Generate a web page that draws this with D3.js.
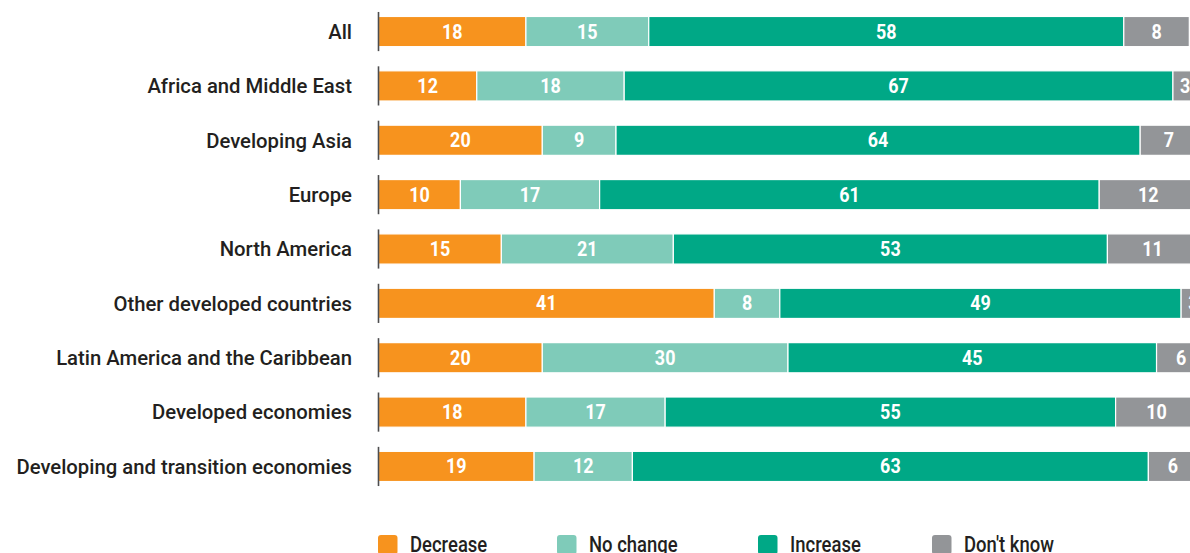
<!DOCTYPE html>
<html><head><meta charset="utf-8">
<script src="https://cdn.jsdelivr.net/npm/d3@7"></script>
<style>
html,body{margin:0;padding:0;background:#fff;overflow:hidden;}
svg{display:block;}
</style></head>
<body>
<svg id="chart" width="1190" height="553"></svg>
<script>
const categories = ["All","Africa and Middle East","Developing Asia","Europe","North America","Other developed countries","Latin America and the Caribbean","Developed economies","Developing and transition economies"];
const seriesNames = ["Decrease","No change","Increase","Don't know"];
const decrease = [18,12,20,10,15,41,20,18,19];
const noChange = [15,18,9,17,21,8,30,17,12];
const increase = [58,67,64,61,53,49,45,55,63];
const dontKnow = [8,3,7,12,11,3,6,10,6];
const colors = ["#F7931E","#7FCBB9","#00A886","#939598"];

const font = "Roboto, 'Liberation Sans', sans-serif";
const svg = d3.select("#chart");
const x0 = 378.5;
const x = d3.scaleLinear().domain([0,100]).range([x0, x0 + 819]);
const y = d3.scaleBand().domain(categories).range([4.5, 493.5]).paddingInner(0.445).paddingOuter(0.22);

const rows = categories.map((c,i)=>({cat:c, Decrease:decrease[i], "No change":noChange[i], Increase:increase[i], "Don't know":dontKnow[i]}));
const stack = d3.stack().keys(seriesNames)(rows);

const g = svg.append("g");
stack.forEach((layer, li) => {
  const lg = g.append("g");
  lg.selectAll("rect").data(layer).join("rect")
    .attr("x", d => x(d[0]))
    .attr("y", d => y(d.data.cat))
    .attr("width", d => x(d[1]) - x(d[0]))
    .attr("height", y.bandwidth())
    .attr("fill", colors[li])
    .attr("stroke", "#fff")
    .attr("stroke-width", 1.2);
  lg.selectAll("text").data(layer).join("text")
    .attr("transform", d => `translate(${(x(d[0]) + x(d[1])) / 2},${y(d.data.cat) + y.bandwidth()/2}) scale(0.92,1)`)
    .attr("dy", "0.36em")
    .attr("text-anchor", "middle")
    .attr("fill", "#fff")
    .attr("font-family", font)
    .attr("font-weight", "bold")
    .attr("font-size", 19.5)
    .text(d => d[1] - d[0]);
});

// axis tick segments
g.selectAll("line.ax").data(categories).join("line")
  .attr("class","ax")
  .attr("x1", x0).attr("x2", x0)
  .attr("y1", d => y(d) - 4.5)
  .attr("y2", d => y(d) + y.bandwidth() + 4.5)
  .attr("stroke", "#4d4d4f").attr("stroke-width", 1.6);

// category labels
g.selectAll("text.cat").data(categories).join("text")
  .attr("class","cat")
  .attr("x", 352)
  .attr("y", d => y(d) + y.bandwidth()/2)
  .attr("dy", "0.36em")
  .attr("text-anchor", "end")
  .attr("fill", "#231F20")
  .attr("font-family", font)
  .attr("font-weight", 500)
  .attr("font-size", 20.3)
  .text(d => d);

// legend
const legX = [378, 557, 758, 932];
const leg = svg.append("g");
seriesNames.forEach((s,i) => {
  leg.append("rect").attr("x", legX[i]).attr("y", 535).attr("width", 19.5).attr("height", 19.5)
    .attr("rx", 3).attr("fill", colors[i]);
  leg.append("text").attr("transform", `translate(${legX[i] + 32},552) scale(0.86,1)`)
    .attr("fill", "#231F20").attr("font-family", font).attr("font-weight", 500)
    .attr("font-size", 21.5).text(s);
});
</script>
</body></html>
